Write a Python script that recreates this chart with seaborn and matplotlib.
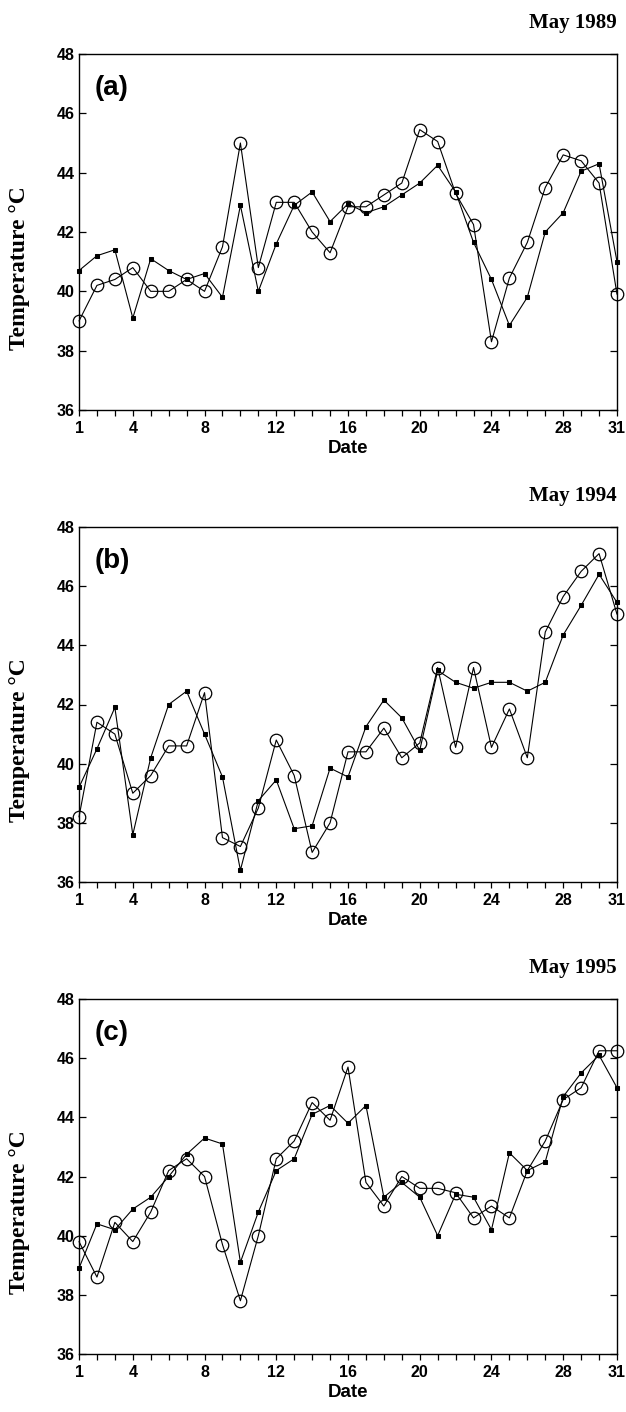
import numpy as np
import pandas as pd
import seaborn as sns
import matplotlib.pyplot as plt

# Daily values (day of month, temperature in deg C)
days = list(range(1, 32))

circ_1989 = [39.0, 40.2, 40.4, 40.8, 40.0, 40.0, 40.4, 40.0, 41.5, 45.0, 40.8,
             43.0, 43.0, 42.0, 41.3, 42.85, 42.85, 43.25, 43.65, 45.45, 45.05,
             43.3, 42.25, 38.3, 40.45, 41.65, 43.5, 44.6, 44.4, 43.65, 39.9]
sq_1989 = [40.7, 41.2, 41.4, 39.1, 41.1, 40.7, 40.4, 40.6, 39.8, 42.9, 40.0,
           41.6, 42.9, 43.35, 42.35, 42.95, 42.65, 42.85, 43.25, 43.65, 44.25,
           43.35, 41.65, 40.4, 38.85, 39.8, 42.0, 42.65, 44.05, 44.3, 41.0]

circ_1994 = [38.2, 41.4, 41.0, 39.0, 39.6, 40.6, 40.6, 42.4, 37.5, 37.2, 38.5,
             40.8, 39.6, 37.0, 38.0, 40.4, 40.4, 41.2, 40.2, 40.7, 43.25,
             40.55, 43.25, 40.55, 41.85, 40.2, 44.45, 45.65, 46.5, 47.1, 45.05]
sq_1994 = [39.2, 40.5, 41.9, 37.6, 40.2, 42.0, 42.45, 41.0, 39.55, 36.4, 38.75,
           39.45, 37.8, 37.9, 39.85, 39.55, 41.25, 42.15, 41.55, 40.45, 43.15,
           42.75, 42.55, 42.75, 42.75, 42.45, 42.75, 44.35, 45.35, 46.4, 45.45]

circ_1995 = [39.8, 38.6, 40.45, 39.8, 40.8, 42.2, 42.6, 42.0, 39.7, 37.8, 40.0,
             42.6, 43.2, 44.5, 43.9, 45.7, 41.8, 41.0, 42.0, 41.6, 41.6,
             41.45, 40.6, 41.0, 40.6, 42.2, 43.2, 44.6, 45.0, 46.25, 46.25]
sq_1995 = [38.9, 40.4, 40.2, 40.9, 41.3, 42.0, 42.75, 43.3, 43.1, 39.1, 40.8,
           42.2, 42.6, 44.1, 44.4, 43.8, 44.4, 41.3, 41.8, 41.3, 40.0,
           41.4, 41.3, 40.2, 42.8, 42.2, 42.5, 44.7, 45.5, 46.1, 45.0]

panel_tags = ['(a)', '(b)', '(c)']
titles = ['May 1989', 'May 1994', 'May 1995']
circ_series = [circ_1989, circ_1994, circ_1995]
sq_series = [sq_1989, sq_1994, sq_1995]

x_labels = [1, 4, 8, 12, 16, 20, 24, 28, 31]
y_ticks = [36, 38, 40, 42, 44, 46, 48]

sns.set_style('ticks')
plt.rcParams['font.family'] = ['Liberation Sans', 'DejaVu Sans']
plt.rcParams['text.color'] = 'black'
plt.rcParams['axes.labelcolor'] = 'black'
plt.rcParams['xtick.color'] = 'black'
plt.rcParams['ytick.color'] = 'black'

W, H = 626, 1412
fig = plt.figure(figsize=(W / 100, H / 100), dpi=100)

# axes boxes in pixels: (top, bottom)
boxes = [(54, 410), (527, 882), (999, 1354)]
left_px, right_px = 79, 617

for i, (top, bot) in enumerate(boxes):
    ax = fig.add_axes([left_px / W, 1 - bot / H,
                       (right_px - left_px) / W, (bot - top) / H])

    df = pd.DataFrame({'day': days, 'circ': circ_series[i], 'sq': sq_series[i]})

    sns.lineplot(data=df, x='day', y='sq', ax=ax, color='black',
                 linewidth=0.8, marker='s', markersize=3,
                 markeredgecolor='black', markerfacecolor='black',
                 sort=False, clip_on=False)
    sns.lineplot(data=df, x='day', y='circ', ax=ax, color='black',
                 linewidth=0.8, marker='o', markersize=9,
                 markeredgecolor='black', markerfacecolor='none',
                 markeredgewidth=0.9, sort=False, clip_on=False)

    ax.set_xlim(1, 31)
    ax.set_ylim(36, 48)
    ax.set_xticks(days)
    ax.set_xticklabels([str(d) if d in x_labels else '' for d in days])
    ax.set_yticks(y_ticks)
    ax.set_yticklabels([str(v) for v in y_ticks])

    for s in ax.spines.values():
        s.set_visible(True)
        s.set_linewidth(1.0)
        s.set_color('black')

    ax.tick_params(axis='x', direction='out', length=4, width=0.9,
                   pad=4, labelsize=11.5, colors='black')
    ax.tick_params(axis='y', direction='in', length=5, width=0.9,
                   right=True, pad=3, labelsize=11.5, colors='black')
    for lab in ax.get_xticklabels() + ax.get_yticklabels():
        lab.set_fontweight('bold')

    ax.set_xlabel('Date', fontsize=13.5, fontweight='bold', labelpad=3)
    ax.set_ylabel('')

    ax.text(0.061, 0.904, panel_tags[i], transform=ax.transAxes,
            ha='center', va='center', fontsize=20, fontweight='bold')

    ax.set_title(titles[i], loc='right', pad=19, fontsize=15,
                 fontweight='bold', family='Liberation Serif')

    fig.text(20 / W, 1 - ((top + bot) / 2 + 36) / H, 'Temperature °C',
             rotation=90, ha='center', va='center', fontsize=17,
             fontweight='bold', family='Liberation Serif')

fig.savefig('out.png', dpi=100, facecolor='white')
